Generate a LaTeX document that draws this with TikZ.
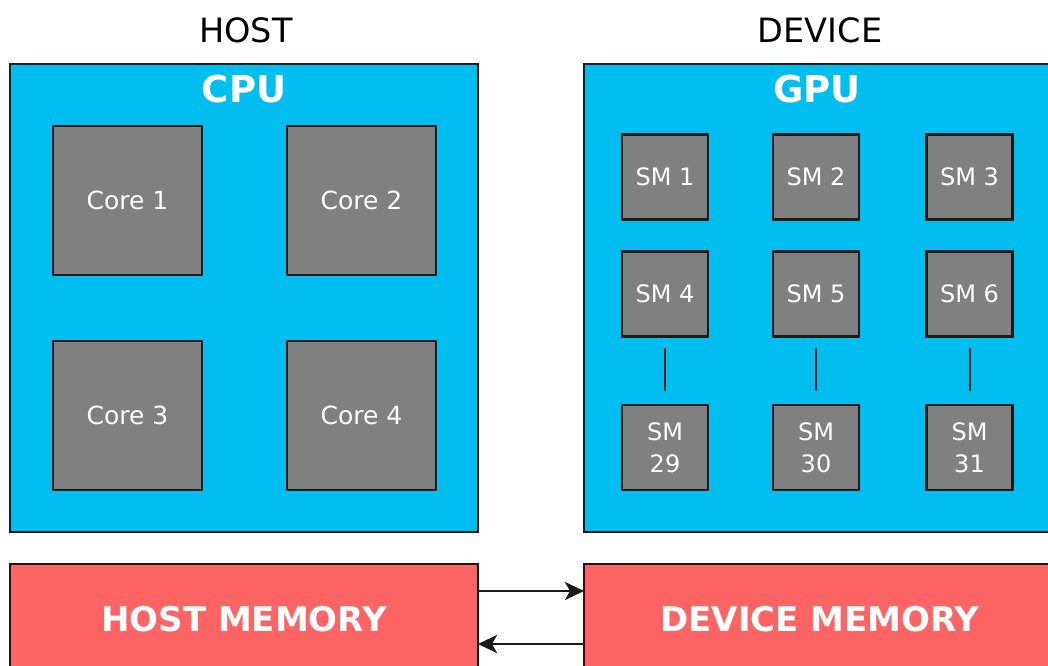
\documentclass[tikz,border=0pt]{standalone}
\usepackage{fontspec}
\setmainfont{DejaVu Sans}
\usetikzlibrary{arrows.meta}
\definecolor{chipblue}{HTML}{00BEF0}
\definecolor{unitgray}{HTML}{808080}
\definecolor{memred}{HTML}{FF6464}
\definecolor{edge}{HTML}{1A1A1A}
\tikzset{
  chip/.style={draw=edge, line width=2.4pt, fill=chipblue, inner sep=0pt},
  core/.style={draw=edge, line width=2.4pt, fill=unitgray, minimum width=149pt, minimum height=149pt,
    inner sep=0pt, text=white, font=\fontsize{25}{29}\selectfont},
  sm/.style={draw=edge, line width=2.4pt, fill=unitgray, minimum width=86pt, minimum height=85pt,
    inner sep=0pt, text=white, align=center, font=\fontsize{24}{32}\selectfont},
  mem/.style={draw=edge, line width=2.4pt, fill=memred, inner sep=0pt, text=white,
    font=\bfseries\fontsize{34}{40}\selectfont},
  heading/.style={font=\fontsize{33.5}{38}\selectfont},
  chiplabel/.style={text=white, font=\bfseries\fontsize{37}{42}\selectfont},
  link/.style={draw=edge, line width=2pt},
  xfer/.style={draw=edge, line width=2.6pt, -{Stealth[length=19pt,width=18pt,inset=5pt]}}
}
\begin{document}
\begin{tikzpicture}[x=1pt, y=-1pt]
\useasboundingbox (0,0) rectangle (1048,665);
\clip (0,0) rectangle (1048,665);

% headings
\node[heading] (host) at (246,30) {HOST};
\node[heading] (device) at (820,30) {DEVICE};

% processor packages
\node[chip, minimum width=468pt, minimum height=468pt] (cpu) at (244,298) {};
\node[chip, minimum width=472pt, minimum height=468pt] (gpu) at (820,298) {};
\node[chiplabel] (cpulbl) at (244,89) {CPU};
\node[chiplabel] (gpulbl) at (817,89) {GPU};

% CPU cores
\node[core] (c1) at (127.5,200.5) {Core 1};
\node[core] (c2) at (361.5,200.5) {Core 2};
\node[core] (c3) at (127.5,415.5) {Core 3};
\node[core] (c4) at (361.5,415.5) {Core 4};

% GPU streaming multiprocessors
\node[sm] (s1) at (665,177) {SM 1};
\node[sm] (s2) at (816,177) {SM 2};
\node[sm] (s3) at (969.5,177) {SM 3};
\node[sm] (s4) at (665,294) {SM 4};
\node[sm] (s5) at (816,294) {SM 5};
\node[sm] (s6) at (969.5,294) {SM 6};
\node[sm] (s29) at (665,447.5) {SM\\29};
\node[sm] (s30) at (816,447.5) {SM\\30};
\node[sm] (s31) at (969.5,447.5) {SM\\31};

\draw[link, shorten <=10pt, shorten >=13pt] (s4.south) -- (s29.north);
\draw[link, shorten <=10pt, shorten >=13pt] (s5.south) -- (s30.north);
\draw[link, shorten <=10pt, shorten >=13pt] (s6.south) -- (s31.north);

% memories
\node[mem, minimum width=468pt, minimum height=110pt] (hmem) at (244,619) {HOST MEMORY};
\node[mem, minimum width=472pt, minimum height=110pt] (dmem) at (820,619) {DEVICE MEMORY};

% transfers between host and device memory
\coordinate (a1) at (478,591);
\coordinate (b1) at (584,591);
\coordinate (a2) at (584,644);
\coordinate (b2) at (478,644);
\draw[xfer] (a1) -- (b1);
\draw[xfer] (a2) -- (b2);
\end{tikzpicture}
\end{document}
